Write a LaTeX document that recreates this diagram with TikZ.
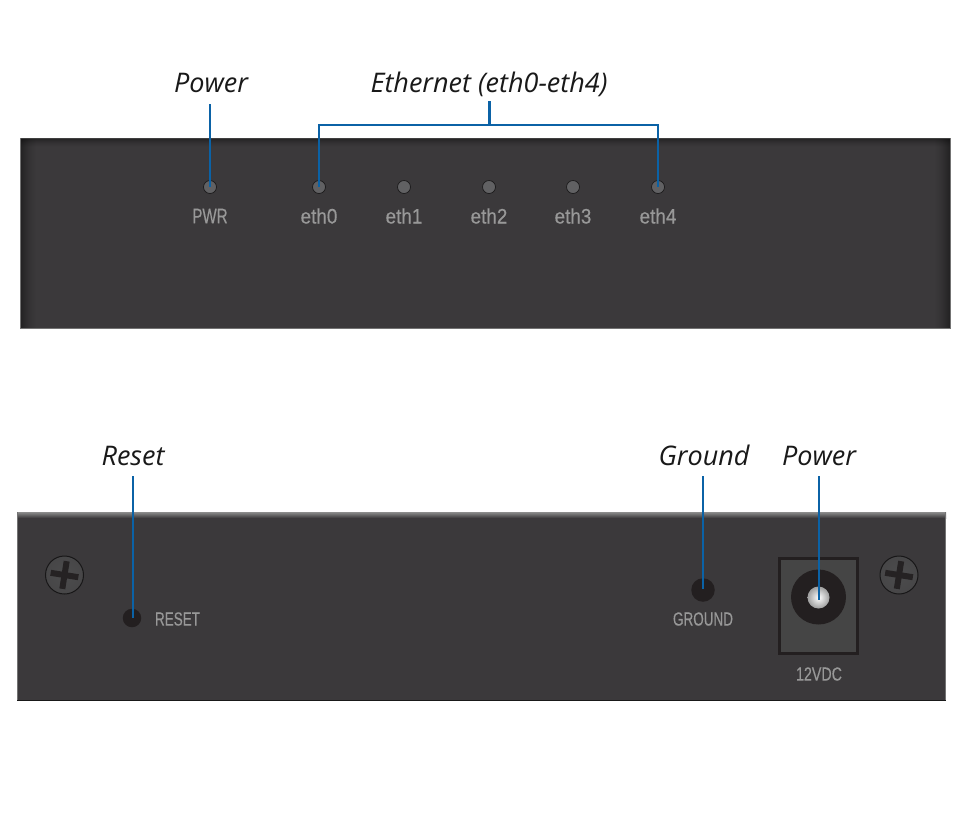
\documentclass[tikz,border=0pt]{standalone}
\usepackage{fontspec}
\setmainfont{Open Sans}
\newfontfamily\capfont[FakeStretch=0.71,FakeBold=0.35]{Liberation Sans}
\newfontfamily\pwrfont[FakeStretch=0.72,FakeBold=0.35]{Liberation Sans}
\newfontfamily\ethfont[FakeStretch=0.9,FakeBold=0.35]{Liberation Sans}
\newfontfamily\voltfont[FakeStretch=0.75,FakeBold=0.35]{Liberation Sans}
\definecolor{panel}{HTML}{3B393B}
\definecolor{leader}{HTML}{0B62A6}
\definecolor{devtext}{HTML}{989898}
\definecolor{holeblack}{HTML}{231F20}
\definecolor{led}{HTML}{616163}
\definecolor{screwc}{HTML}{4C4C4D}
\definecolor{jackface}{HTML}{454545}
\tikzset{
  callout/.style={font=\fontsize{27}{30}\selectfont\itshape, text=black!90, inner sep=0pt, anchor=base},
  devlabel/.style={text=devtext, inner sep=0pt, anchor=center},
  caplabel/.style={devlabel, font=\capfont\fontsize{19}{22}\selectfont},
  pwrlabel/.style={devlabel, font=\pwrfont\fontsize{21}{24}\selectfont},
  ethlabel/.style={devlabel, font=\ethfont\fontsize{21}{24}\selectfont},
  voltlabel/.style={devlabel, font=\voltfont\fontsize{19}{22}\selectfont},
  ledlamp/.style={circle, fill=led, draw=black!55!panel, line width=.7pt, minimum size=13pt, inner sep=0pt},
  hole/.style={circle, fill=holeblack, draw=none, inner sep=0pt},
  leaderline/.style={draw=leader, line width=2.9pt, line cap=butt, line join=miter},
  bracketline/.style={draw=leader, line width=2.3pt, line cap=butt, line join=miter},
  thinleader/.style={draw=leader, line width=2.8pt, line cap=butt},
  screw/.style={circle, draw=black!60!panel, line width=1pt, inner color=screwc, outer color=screwc!70!panel, minimum size=38pt, inner sep=0pt},
  screwcross/.style={draw=holeblack!90!panel, line width=6pt, line cap=butt},
}
\newcommand{\screwat}[3]{%
  \node[screw] (#1) at (#2,#3) {};
  \begin{scope}[shift={(#2,#3)},rotate=-9]
    \draw[screwcross] (-14,0) -- (14,0);
    \draw[screwcross] (0,-14) -- (0,14);
  \end{scope}
}
\begin{document}
\begin{tikzpicture}[x=1pt,y=-1pt]
\useasboundingbox (0,0) rectangle (960,820);
\fill[white] (0,0) rectangle (960,820);
% top panel
\fill[panel] (20,138) rectangle (951,329);
\foreach \i in {0,...,15}{
  \pgfmathsetmacro{\op}{0.42*(1-\i/16)^1.5}
  \fill[black, fill opacity=\op] (20+\i,138) rectangle (21+\i,329);
  \fill[black, fill opacity=\op] (950-\i,138) rectangle (951-\i,329);
}
\foreach \i in {0,...,8}{
  \pgfmathsetmacro{\op}{0.40*(1-\i/9)^1.5}
  \fill[black, fill opacity=\op] (20,138+\i) rectangle (951,139+\i);
}
\draw[black!75, line width=1pt] (20,138.5) -- (951,138.5);
\draw[black!55, line width=.8pt] (20,328.6) -- (951,328.6);
\draw[black!55, line width=.8pt] (20.4,138) -- (20.4,329) (950.6,138) -- (950.6,329);
% bottom panel
\fill[panel] (17,512) rectangle (946,701);
\shade[top color=black!45, bottom color=panel] (17,512) rectangle (946,518);
\draw[black!55, line width=.8pt] (17.4,512) -- (17.4,700) (945.6,512) -- (945.6,700);
\draw[black!90, line width=1.8pt] (17,700.5) -- (946,700.5);
% LEDs
\node[ledlamp] (pwr) at (210,187) {};
\node[ledlamp] (e0) at (319,187) {};
\node[ledlamp] (e1) at (404,187) {};
\node[ledlamp] (e2) at (489,187) {};
\node[ledlamp] (e3) at (573,187) {};
\node[ledlamp] (e4) at (658,187) {};
\node[pwrlabel] (pwrt) at (210,216) {PWR};
\node[ethlabel] at (319,216) (e0t) {eth0};
\node[ethlabel] at (404,216) (e1t) {eth1};
\node[ethlabel] at (489,216) (e2t) {eth2};
\node[ethlabel] at (573,216) (e3t) {eth3};
\node[ethlabel] at (658,216) (e4t) {eth4};
% callouts
\node[callout] (cpower) at (211,92) {Power};
\node[callout] (ceth) at (489,92) {Ethernet (eth0-eth4)};
\node[callout] (creset) at (133,465) {Reset};
\node[callout] (cground) at (704,465) {Ground};
\node[callout] (cpower2) at (819,465) {Power};
% bottom parts
\screwat{s1}{64.5}{575}
\screwat{s2}{899}{575}
\node[hole, minimum size=18.5pt] (reset) at (132,618) {};
\node[caplabel] (resett) at (177.5,619) {RESET};
\node[hole, minimum size=23.5pt] (ground) at (703,590) {};
\node[caplabel] (groundt) at (703,619) {GROUND};
\node[draw=holeblack, line width=2.8pt, fill=jackface, minimum width=78pt, minimum height=95pt, inner sep=0pt] (jack) at (818.5,606) {};
\node[hole, minimum size=55pt] (barrel) at (818.5,597) {};
\node[circle, inner color=white, outer color=black!38, draw=none, minimum size=22pt, inner sep=0pt] (pin) at (818.5,597.5) {};
\node[voltlabel] (jackt) at (819,674) {12VDC};
% free ends and connectors
\coordinate (top1) at (210,104);
\coordinate (b1) at (133,476);
\coordinate (b2) at (703,476);
\coordinate (b3) at (819,476);
\coordinate (b3end) at (819,600);
\coordinate (b1end) at (133,618);
\coordinate (b2end) at (703,589);
\coordinate (br) at (489.3,101);
\coordinate (brm) at (489.3,124.8);
\draw[leaderline] (top1) -- (pwr.center);
\draw[leaderline] (br) -- (brm);
\draw[bracketline] (e0.center) -- (e0 |- brm) -- (e4 |- brm) -- (e4.center);
\draw[thinleader] (b1) -- (b1end);
\draw[thinleader] (b2) -- (b2end);
\draw[thinleader] (b3) -- (b3end);
\end{tikzpicture}
\end{document}
